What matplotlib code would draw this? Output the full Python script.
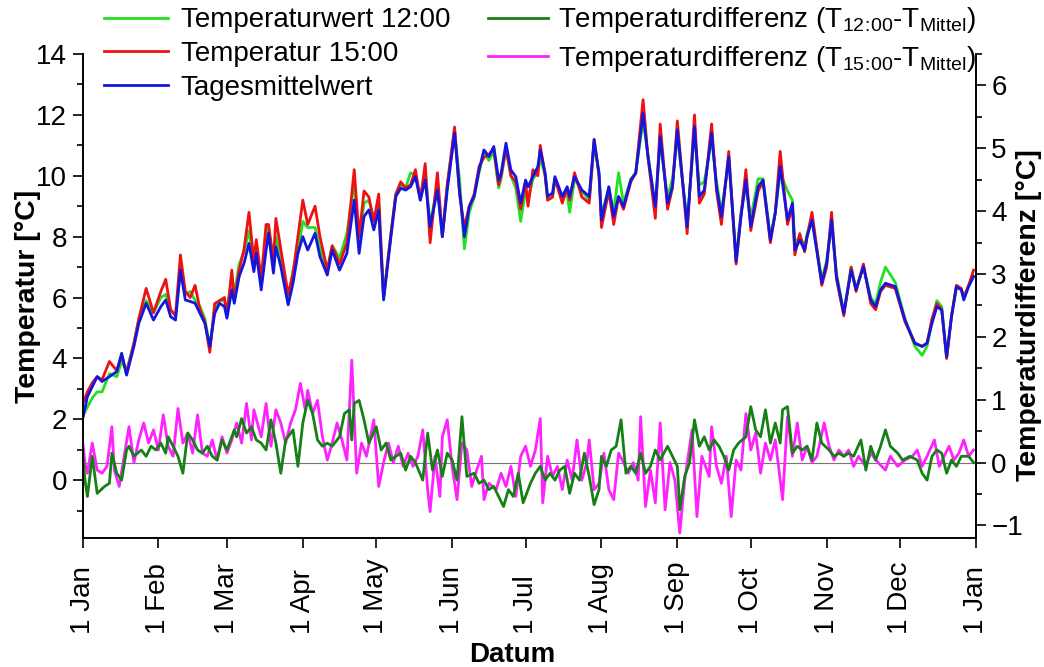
import matplotlib
matplotlib.use("Agg")
import matplotlib.pyplot as plt
from matplotlib.ticker import MultipleLocator

plt.rcParams["font.family"] = ["Liberation Sans", "DejaVu Sans"]
plt.rcParams["mathtext.fontset"] = "custom"
plt.rcParams["mathtext.rm"] = "Liberation Sans"

# temperature curves (day of year, degC), left axis
days_t = [0, 2, 4, 6, 8, 11, 14, 16, 18, 21, 23, 26, 29, 32, 34, 36, 38, 40, 42, 44,
          46, 48, 50, 52, 54, 56, 58, 59, 61, 62, 64, 66, 68, 70, 71, 73, 75, 76, 78, 79,
          81, 84, 86, 88, 90, 92, 95, 97, 100, 102, 105, 108, 111, 113, 115, 117, 119, 121, 123, 126,
          128, 130, 132, 134, 136, 138, 140, 142, 145, 147, 149, 152, 154, 156, 158, 160, 162, 164, 166, 168,
          170, 171, 173, 175, 177, 179, 181,
          182, 184, 186, 187, 189, 190, 192, 193, 196, 198, 199, 201, 204, 207, 209, 211, 212, 215, 217, 219,
          221, 224, 226, 229, 231, 234, 236, 239, 241, 243, 247, 250, 252, 254, 257, 259, 261, 264, 267, 269,
          271, 273, 276, 278, 281, 283, 285, 288, 290, 291, 293, 295, 296, 298, 302, 304, 306, 308, 311, 314,
          316, 319, 322, 324, 326, 328, 332, 336, 340, 343, 345, 347, 349, 351, 353, 355, 357, 359, 360, 362,
          364]

t_mean = [1.98, 2.74, 3.07, 3.4, 3.24, 3.4, 3.57, 4.17, 3.45, 4.39, 5.15, 5.81, 5.26, 5.7, 5.92, 5.37, 5.26, 6.9, 5.92, 5.87,
          5.81, 5.48, 5.15, 4.39, 5.48, 5.81, 5.7, 5.32, 6.25, 5.81, 6.69, 7.13, 7.78, 6.85, 7.45, 6.25, 7.56, 8.11, 6.8, 7.67,
          7.02, 5.76, 6.47, 7.45, 8.0, 7.56, 8.11, 7.34, 6.74, 7.56, 6.9, 7.45, 9.2, 7.45, 8.66, 8.88, 8.22, 8.88, 5.92, 8.0,
          9.32, 9.59, 9.53, 9.64, 9.97, 9.2, 9.86, 8.33, 9.53, 8.0, 9.53, 11.4, 9.53, 8.0, 8.99, 9.32, 10.19, 10.85, 10.63, 10.96,
          9.86, 10.08, 11.07, 10.19, 9.97, 9.1, 9.86,
          9.64, 9.97, 10.3, 10.85, 10.08, 9.32, 9.43, 9.97, 9.32, 9.64, 9.32, 9.97, 9.53, 9.32, 11.18, 10.08, 8.55, 9.64, 8.66, 9.32,
          8.99, 9.86, 10.08, 12.05, 10.63, 8.99, 11.29, 9.1, 9.64, 11.51, 8.33, 11.62, 9.32, 9.53, 11.4, 9.64, 8.66, 10.63, 7.18, 8.66,
          9.86, 8.33, 9.64, 9.86, 7.89, 8.77, 10.3, 8.55, 9.1, 7.56, 7.89, 7.56, 8.0, 8.55, 6.47, 7.13, 8.55, 6.69, 5.48, 6.9,
          6.25, 7.02, 5.92, 5.7, 6.25, 6.47, 6.36, 5.26, 4.5, 4.39, 4.5, 5.15, 5.7, 5.59, 4.06, 5.37, 6.36, 6.25, 5.92, 6.36,
          6.69]

t_1500 = [2.5, 2.9, 3.2, 3.4, 3.3, 3.9, 3.6, 4.1, 3.5, 4.5, 5.3, 6.3, 5.5, 6.2, 6.6, 5.6, 5.4, 7.4, 6.2, 6.0,
          6.4, 5.6, 5.2, 4.2, 5.8, 5.9, 6.0, 5.4, 6.9, 5.9, 6.9, 7.6, 8.8, 7.2, 7.9, 6.6, 8.4, 8.4, 7.2, 8.6,
          7.6, 6.1, 6.8, 8.0, 9.2, 8.4, 9.0, 8.0, 6.9, 7.7, 7.1, 7.8, 10.2, 8.0, 9.5, 9.3, 8.5, 9.4, 6.0, 8.1,
          9.4, 9.8, 9.6, 9.7, 10.2, 9.2, 10.4, 7.8, 10.1, 8.0, 9.7, 11.6, 9.4, 8.3, 9.0, 9.4, 10.3, 10.6, 10.7, 10.9,
          9.7, 10.0, 10.9, 10.0, 9.8, 8.9, 9.8,
          9.0, 10.2, 10.0, 11.0, 10.0, 9.2, 9.3, 9.9, 9.1, 9.6, 9.2, 10.1, 9.3, 9.1, 11.2, 10.0, 8.3, 9.5, 8.4, 9.3,
          8.9, 9.8, 10.1, 12.5, 10.6, 8.6, 11.7, 8.9, 9.6, 11.8, 8.1, 12.0, 9.1, 9.4, 11.7, 9.5, 8.4, 10.8, 7.1, 8.7,
          10.2, 8.2, 9.5, 9.8, 7.8, 8.8, 10.8, 8.4, 9.0, 7.4, 8.1, 7.5, 8.0, 8.8, 6.4, 7.0, 8.8, 6.6, 5.4, 7.0,
          6.2, 7.1, 5.8, 5.6, 6.2, 6.4, 6.3, 5.2, 4.5, 4.4, 4.5, 5.3, 5.8, 5.6, 4.0, 5.4, 6.4, 6.3, 6.0, 6.4,
          6.9]

t_1200 = [2.1, 2.4, 2.7, 2.9, 2.9, 3.5, 3.4, 3.9, 3.6, 4.5, 5.3, 5.9, 5.5, 6.0, 6.1, 5.6, 5.4, 6.9, 6.1, 6.2,
          5.9, 5.7, 5.3, 4.4, 5.6, 5.9, 5.9, 5.5, 6.7, 6.1, 7.1, 7.5, 8.2, 7.1, 7.8, 6.4, 7.9, 8.3, 7.1, 8.0,
          7.4, 5.8, 6.9, 7.5, 8.5, 8.3, 8.3, 7.6, 6.9, 7.7, 7.3, 8.1, 9.8, 7.8, 9.1, 9.2, 8.6, 9.0, 6.0, 8.1,
          9.4, 9.7, 9.6, 10.1, 10.0, 9.3, 10.1, 8.4, 9.7, 8.0, 9.7, 11.5, 9.9, 7.6, 8.8, 9.3, 10.1, 10.8, 10.5, 10.8,
          9.6, 9.9, 10.9, 10.0, 9.6, 8.5, 9.5,
          9.2, 9.9, 10.1, 10.6, 10.0, 9.2, 9.3, 9.9, 9.3, 9.4, 8.8, 9.9, 9.5, 9.2, 11.0, 10.1, 8.7, 9.6, 8.8, 10.1,
          9.1, 9.9, 10.1, 11.8, 10.7, 9.0, 11.1, 9.3, 9.9, 11.3, 8.5, 11.4, 9.7, 9.8, 11.2, 9.8, 8.8, 10.5, 7.3, 8.8,
          9.7, 8.6, 9.9, 9.9, 8.0, 8.8, 10.1, 9.5, 9.2, 7.8, 8.0, 7.7, 8.1, 8.6, 6.6, 7.2, 8.4, 6.8, 5.5, 7.0,
          6.3, 7.0, 6.0, 5.8, 6.5, 7.0, 6.5, 5.3, 4.4, 4.1, 4.4, 5.2, 5.9, 5.7, 4.0, 5.4, 6.3, 6.3, 6.0, 6.4,
          6.7]

# temperature differences, right axis
days_d15 = [0, 1, 2, 4, 6, 8, 10, 12, 13, 15, 17, 19, 21, 23, 25, 27, 29, 31, 33, 35,
            37, 39, 41, 43, 45, 47, 49, 51, 53, 55, 57, 59, 61, 63, 65, 67, 69, 70, 73, 75,
            77, 79, 81, 83, 85, 87, 89, 91, 92, 94, 96, 98, 100, 102, 104, 106, 108, 110, 112, 114,
            116, 119, 121, 123, 125, 127, 129, 131, 133, 135, 137, 139, 141, 142, 144, 146, 147, 149, 151, 153,
            155, 157, 159, 161, 163, 164, 166, 169, 171, 173, 175, 177, 179, 181,
            183, 185, 187, 188, 190, 192, 194, 196, 198, 200, 202, 204, 206, 207, 209, 211, 213, 215, 217, 219,
            221, 223, 225, 227, 228, 230, 232, 234, 236, 238, 240, 242, 244, 246, 249, 250, 251, 253, 256, 257,
            259, 261, 263, 265, 267, 269, 271, 273, 275, 277, 279, 281, 283, 286, 288, 290, 292, 294, 296, 298,
            300, 303, 305, 307, 309, 311, 313, 315, 317, 320, 322, 325, 328, 330, 333, 336, 339, 341, 343, 345,
            348, 350, 352, 354, 356, 358, 360, 362, 364]
d_1500 = [0.36, 0.0, -0.17, 0.31, -0.12, -0.17, -0.06, 0.57, -0.12, -0.38, 0.1, 0.57, 0.0, 0.36, 0.63, 0.31, 0.52, 0.2, 0.76, 0.26,
          0.1, 0.86, 0.31, 0.47, 0.15, 0.76, 0.15, 0.1, 0.36, 0.04, 0.41, 0.15, 0.36, 0.63, 0.31, 0.94, 0.36, 0.84, 0.41, 0.94,
          0.26, 0.84, 0.63, 0.31, 0.63, 0.84, 1.26, 0.84, 1.15, 0.78, 0.99, 0.41, 0.04, 0.31, 0.63, 0.36, 0.04, 1.63, -0.17, 0.31,
          0.1, 0.68, -0.38, 0.0, 0.31, 0.0, 0.26, -0.06, 0.15, -0.06, 0.1, 0.52, -0.43, -0.78, 0.1, -0.54, 0.41, 0.68, -0.06, -0.59,
          0.31, 0.2, -0.38, -0.12, 0.1, -0.59, -0.33, -0.43, -0.17, -0.38, -0.06, -0.54, 0.1, 0.26,
          -0.06, 0.2, 0.7, -0.64, 0.1, -0.22, -0.06, -0.43, 0.04, -0.28, 0.36, -0.28, 0.0, 0.36, -0.43, -0.33, 0.15, -0.43, -0.59, 0.15,
          0.0, -0.17, 0.0, -0.28, 0.73, -0.7, -0.12, -0.64, 0.63, -0.75, 0.0, -0.28, -1.12, -0.28, 0.52, -0.17, -0.86, 0.1, -0.22, 0.57,
          -0.06, -0.33, 0.1, -0.86, 0.04, -0.12, 0.78, 0.2, 0.47, -0.17, 0.31, 0.04, 0.36, -0.59, 0.73, 0.1, 0.63, 0.04, 0.26, 0.0,
          0.1, 0.63, 0.26, 0.04, 0.2, 0.1, 0.2, -0.06, 0.1, -0.06, 0.15, 0.0, -0.12, 0.1, -0.06, 0.04, 0.1, 0.2, -0.06, 0.1,
          0.36, -0.06, 0.1, 0.26, 0.04, 0.15, 0.36, 0.1, 0.2]

days_d12 = [0, 1, 2, 4, 6, 9, 11, 12, 14, 16, 18, 19, 21, 24, 26, 28, 30, 32, 34, 35,
            37, 39, 41, 43, 45, 47, 49, 51, 53, 55, 57, 59, 62, 63, 65, 67, 69, 71, 73, 75,
            77, 79, 81, 83, 86, 88, 90, 92, 94, 96, 98, 100, 102, 105, 107, 109, 110, 111, 113, 115,
            117, 120, 122, 124, 126, 128, 130, 132, 134, 136, 139, 141, 143, 145, 147, 149, 151, 153, 155, 157,
            160, 162, 164, 166, 168, 170, 172, 174, 176, 178, 180,
            183, 185, 187, 189, 191, 193, 195, 197, 199, 201, 203, 205, 207, 209, 211, 212, 214, 216, 218, 220,
            222, 224, 226, 228, 230, 232, 234, 236, 239, 241, 243, 244, 246, 248, 250, 252, 254, 256, 258, 260,
            262, 264, 266, 268, 271, 273, 275, 277, 279, 281, 283, 285, 286, 288, 290, 292, 294, 296, 298, 300,
            302, 305, 307, 309, 311, 313, 315, 318, 320, 322, 324, 326, 328, 330, 333, 335, 338, 341, 343, 345,
            347, 349, 351, 353, 355, 357, 359, 362, 364]
d_1200 = [0.2, -0.28, -0.54, 0.1, -0.49, -0.38, -0.33, 0.15, -0.17, -0.28, 0.2, 0.26, 0.1, 0.2, 0.1, 0.26, 0.2, 0.31, 0.15, 0.41,
          0.26, 0.1, -0.17, 0.47, 0.36, 0.2, 0.15, 0.26, 0.1, 0.04, 0.36, 0.2, 0.52, 0.41, 0.7, 0.47, 0.57, 0.36, 0.31, 0.2,
          0.68, 0.31, -0.17, 0.36, 0.52, -0.06, 0.63, 0.99, 0.78, 0.36, 0.26, 0.31, 0.26, 0.41, 0.78, 0.84, 0.36, 0.94, 0.99, 0.68,
          0.31, 0.57, 0.2, 0.31, 0.04, 0.1, 0.15, -0.12, 0.1, 0.0, -0.28, 0.47, -0.12, 0.2, -0.22, 0.15, 0.04, -0.28, 0.73, -0.22,
          -0.17, -0.33, -0.28, -0.43, -0.38, -0.54, -0.7, -0.43, -0.54, -0.17, -0.64,
          -0.33, -0.17, -0.06, -0.28, -0.17, -0.28, -0.12, -0.06, -0.49, -0.17, -0.28, 0.15, -0.22, -0.67, -0.43, 0.1, -0.06, 0.2, 0.26, 0.68,
          -0.17, -0.06, -0.17, 0.15, -0.17, -0.06, 0.2, 0.04, 0.26, 0.1, -0.06, -0.75, -0.22, 0.0, 0.68, 0.26, 0.41, 0.2, 0.36, 0.26,
          0.1, -0.12, 0.2, 0.31, 0.41, 0.89, 0.52, 0.41, 0.84, 0.31, 0.63, 0.31, 0.84, 0.89, 0.15, 0.26, 0.2, 0.26, 0.04, 0.63,
          0.31, 0.2, 0.1, 0.15, 0.1, 0.15, 0.1, 0.36, -0.12, 0.26, 0.04, 0.26, 0.52, 0.26, 0.15, 0.04, 0.1, 0.04, -0.17, -0.28,
          0.1, 0.2, 0.15, -0.17, 0.04, -0.06, 0.1, 0.1, 0.0]

month_days = [0, 31, 59, 90, 120, 151, 181, 212, 243, 273, 304, 334, 365]
month_labels = ["1 Jan", "1 Feb", "1 Mar", "1 Apr", "1 May", "1 Jun", "1 Jul",
                "1 Aug", "1 Sep", "1 Oct", "1 Nov", "1 Dec", "1 Jan"]

W, H = 1044, 667
fig = plt.figure(figsize=(W / 100, H / 100), dpi=100)
ax = fig.add_axes([82.5 / W, 1 - 538 / H, (976 - 82.5) / W, (538 - 54) / H])
ax2 = ax.twinx()

lw = 2.0
l12, = ax.plot(days_t, t_1200, color="#22e022", lw=lw, label="Temperaturwert 12:00")
l15, = ax.plot(days_t, t_1500, color="#ee1111", lw=lw, label="Temperatur 15:00")
lm, = ax.plot(days_t, t_mean, color="#1515e0", lw=lw, label="Tagesmittelwert")

ax2.axhline(0, color="#777777", lw=0.8)
lp, = ax2.plot(days_d15, d_1500, color="#ff22ff", lw=lw,
               label=r"Temperaturdifferenz (T$_\mathregular{15\!:\!00}$-T$_\mathregular{Mittel}$)")
lg, = ax2.plot(days_d12, d_1200, color="#158015", lw=lw,
               label=r"Temperaturdifferenz (T$_\mathregular{12\!:\!00}$-T$_\mathregular{Mittel}$)")

ax.set_xlim(0, 365)
ax.set_ylim(-1.9, 14)
ax2.set_ylim(-1.2, 6.5)

fs = 20
ax.set_xticks(month_days)
ax.set_xticklabels(month_labels, rotation=90, ha="left", va="center", rotation_mode="anchor")
ax.set_yticks([0, 2, 4, 6, 8, 10, 12, 14])
ax.yaxis.set_minor_locator(MultipleLocator(1))
ax2.set_yticks([-1, 0, 1, 2, 3, 4, 5, 6])
ax2.yaxis.set_minor_locator(MultipleLocator(0.5))

for a in (ax, ax2):
    a.spines["top"].set_visible(False)
    for s in a.spines.values():
        s.set_linewidth(1.2)
ax.tick_params(axis="x", direction="out", length=7, width=1.2, pad=62, labelsize=fs)
ax.tick_params(axis="y", which="major", direction="out", length=7, width=1.2, pad=4, labelsize=fs)
ax.tick_params(axis="y", which="minor", direction="out", length=4, width=1.2)
ax2.tick_params(axis="y", which="major", direction="out", length=7, width=1.2, pad=4, labelsize=fs)
ax2.tick_params(axis="y", which="minor", direction="out", length=4, width=1.2)

ax.set_ylabel("Temperatur [°C]", fontsize=20.5, fontweight="bold")
ax.yaxis.set_label_coords(-0.046, 0.5)
ax2.set_ylabel("Temperaturdifferenz [°C]", fontsize=20.5, fontweight="bold", rotation=90)
ax2.yaxis.set_label_coords(1.045, 0.46)
fig.text(512 / W, 1 - 655 / H, "Datum", fontsize=20, fontweight="bold", ha="center", va="center")

leg1 = fig.legend(handles=[l12, l15, lm], loc="upper left", bbox_to_anchor=(103 / W, 0.991),
                  frameon=False, fontsize=fs, handlelength=2.3, handletextpad=0.45,
                  labelspacing=0.28, borderpad=0.05, borderaxespad=0)
leg2 = fig.legend(handles=[lg, lp], loc="upper left", bbox_to_anchor=(487 / W, 0.994),
                  frameon=False, fontsize=fs, handlelength=2.15, handletextpad=0.36,
                  labelspacing=0.3, borderpad=0.05, borderaxespad=0)

fig.savefig("out.png", dpi=100)
